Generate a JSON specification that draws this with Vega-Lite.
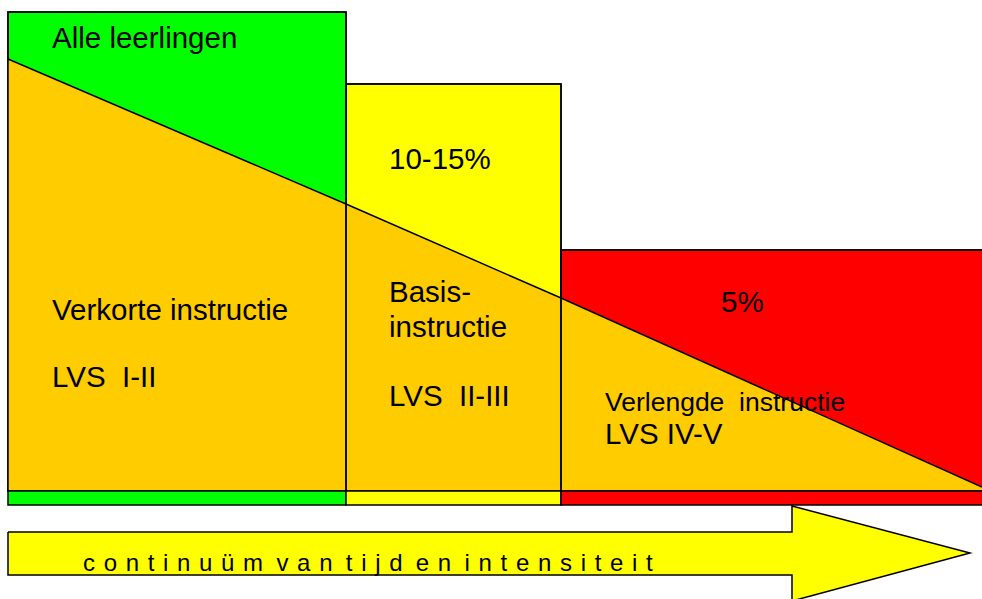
{
  "$schema": "https://vega.github.io/schema/vega-lite/v6.json",
  "width": 982,
  "height": 599,
  "autosize": "none",
  "padding": 0,
  "background": "white",
  "config": {"view": {"stroke": null}},
  "datasets": {
    "boxes": [
      {"segment": "groen", "x0": 8, "x1": 346, "top": 12, "bottom": 491},
      {"segment": "geel", "x0": 346, "x1": 561, "top": 84, "bottom": 491},
      {"segment": "rood", "x0": 561, "x1": 986, "top": 250, "bottom": 491}
    ],
    "strip": [
      {"segment": "groen", "x0": 8, "x1": 346, "top": 491, "bottom": 505},
      {"segment": "geel", "x0": 346, "x1": 561, "top": 491, "bottom": 505},
      {"segment": "rood", "x0": 561, "x1": 986, "top": 491, "bottom": 505}
    ],
    "wedge": [
      {"x": 8, "y": 59, "bottom": 491},
      {"x": 346, "y": 204, "bottom": 491},
      {"x": 561, "y": 298, "bottom": 491},
      {"x": 982, "y": 487, "bottom": 491}
    ],
    "body": [
      {"x0": 8, "x1": 792, "top": 532, "bottom": 575}
    ],
    "head": [
      {"x": 792, "top": 506, "bottom": 601},
      {"x": 970, "top": 553, "bottom": 553}
    ],
    "outline": [
      {"i": 1, "x": 8, "y": 532},
      {"i": 2, "x": 792, "y": 532},
      {"i": 3, "x": 792, "y": 506},
      {"i": 4, "x": 970, "y": 553},
      {"i": 5, "x": 792, "y": 601},
      {"i": 6, "x": 792, "y": 575},
      {"i": 7, "x": 8, "y": 575},
      {"i": 8, "x": 8, "y": 532}
    ],
    "labels": [
      {"t": "Alle leerlingen", "x": 52, "y": 48},
      {"t": "10-15%", "x": 389, "y": 169},
      {"t": "Verkorte instructie", "x": 52, "y": 320},
      {"t": "LVS\u00a0\u00a0I-II", "x": 52, "y": 387},
      {"t": "Basis-", "x": 389, "y": 302},
      {"t": "instructie", "x": 389, "y": 337},
      {"t": "LVS\u00a0\u00a0II-III", "x": 389, "y": 406},
      {"t": "5%", "x": 721, "y": 312},
      {"t": "LVS IV-V", "x": 605, "y": 444}
    ],
    "small": [
      {"t": "Verlengde\u00a0\u00a0instructie", "x": 605, "y": 411}
    ],
    "arrowtext": [
      {"t": "c\u00a0\u200ao\u00a0\u200an\u00a0\u200at\u00a0\u200ai\u00a0\u200an\u00a0\u200au\u00a0\u200aü\u00a0\u200am\u00a0\u00a0v\u00a0\u200aa\u00a0\u200an\u00a0\u00a0t\u00a0\u200ai\u00a0\u200aj\u00a0\u200ad\u00a0\u00a0e\u00a0\u200an\u00a0\u00a0i\u00a0\u200an\u00a0\u200at\u00a0\u200ae\u00a0\u200an\u00a0\u200as\u00a0\u200ai\u00a0\u200at\u00a0\u200ae\u00a0\u200ai\u00a0\u200at", "x": 83, "y": 571}
    ]
  },
  "layer": [
    {
      "data": {"name": "boxes"},
      "mark": {"type": "rect", "stroke": "black", "strokeWidth": 1.5},
      "encoding": {
        "x": {"field": "x0", "type": "quantitative", "scale": {"domain": [0, 982], "nice": false, "zero": false}, "axis": null},
        "x2": {"field": "x1"},
        "y": {"field": "top", "type": "quantitative", "scale": {"domain": [0, 599], "nice": false, "zero": false, "reverse": true}, "axis": null},
        "y2": {"field": "bottom"},
        "fill": {"field": "segment", "type": "nominal", "scale": {"domain": ["groen", "geel", "rood"], "range": ["#00ff00", "#ffff00", "#ff0000"]}, "legend": null}
      }
    },
    {
      "data": {"name": "wedge"},
      "mark": {"type": "area", "color": "#ffcc00", "opacity": 1},
      "encoding": {
        "x": {"field": "x", "type": "quantitative"},
        "y": {"field": "y", "type": "quantitative"},
        "y2": {"field": "bottom"}
      }
    },
    {
      "data": {"name": "wedge"},
      "mark": {"type": "line", "color": "black", "strokeWidth": 1.5},
      "encoding": {
        "x": {"field": "x", "type": "quantitative"},
        "y": {"field": "y", "type": "quantitative"}
      }
    },
    {
      "data": {"name": "boxes"},
      "mark": {"type": "rect", "stroke": "black", "strokeWidth": 1.5, "fillOpacity": 0, "fill": "white"},
      "encoding": {
        "x": {"field": "x0", "type": "quantitative"},
        "x2": {"field": "x1"},
        "y": {"field": "top", "type": "quantitative"},
        "y2": {"field": "bottom"}
      }
    },
    {
      "data": {"name": "strip"},
      "mark": {"type": "rect", "stroke": "black", "strokeWidth": 1.5},
      "encoding": {
        "x": {"field": "x0", "type": "quantitative"},
        "x2": {"field": "x1"},
        "y": {"field": "top", "type": "quantitative"},
        "y2": {"field": "bottom"},
        "fill": {"field": "segment", "type": "nominal", "legend": null}
      }
    },
    {
      "data": {"name": "body"},
      "mark": {"type": "rect", "color": "#ffff00", "opacity": 1},
      "encoding": {
        "x": {"field": "x0", "type": "quantitative"},
        "x2": {"field": "x1"},
        "y": {"field": "top", "type": "quantitative"},
        "y2": {"field": "bottom"}
      }
    },
    {
      "data": {"name": "head"},
      "mark": {"type": "area", "color": "#ffff00", "opacity": 1},
      "encoding": {
        "x": {"field": "x", "type": "quantitative"},
        "y": {"field": "top", "type": "quantitative"},
        "y2": {"field": "bottom"}
      }
    },
    {
      "data": {"name": "outline"},
      "mark": {"type": "line", "color": "black", "strokeWidth": 1.5},
      "encoding": {
        "x": {"field": "x", "type": "quantitative"},
        "y": {"field": "y", "type": "quantitative"},
        "order": {"field": "i", "type": "quantitative"}
      }
    },
    {
      "data": {"name": "labels"},
      "mark": {"type": "text", "align": "left", "baseline": "alphabetic", "font": "Liberation Sans", "fontSize": 29.5, "color": "black"},
      "encoding": {
        "x": {"field": "x", "type": "quantitative"},
        "y": {"field": "y", "type": "quantitative"},
        "text": {"field": "t"}
      }
    },
    {
      "data": {"name": "small"},
      "mark": {"type": "text", "align": "left", "baseline": "alphabetic", "font": "Liberation Sans", "fontSize": 26.5, "color": "black"},
      "encoding": {
        "x": {"field": "x", "type": "quantitative"},
        "y": {"field": "y", "type": "quantitative"},
        "text": {"field": "t"}
      }
    },
    {
      "data": {"name": "arrowtext"},
      "mark": {"type": "text", "align": "left", "baseline": "alphabetic", "font": "Liberation Sans", "fontSize": 24, "color": "black"},
      "encoding": {
        "x": {"field": "x", "type": "quantitative"},
        "y": {"field": "y", "type": "quantitative"},
        "text": {"field": "t"}
      }
    }
  ]
}
